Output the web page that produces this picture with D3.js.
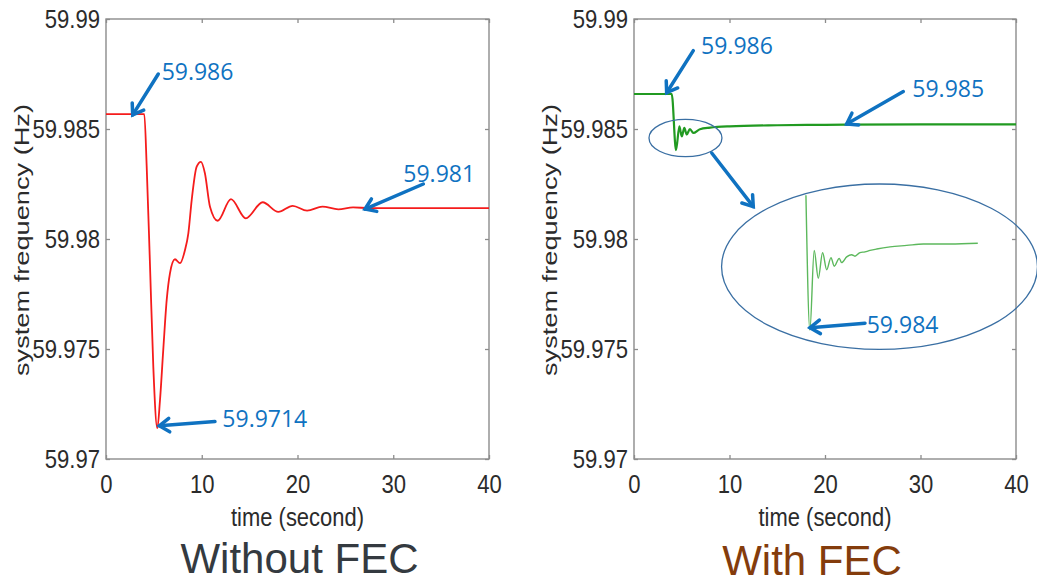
<!DOCTYPE html>
<html><head><meta charset="utf-8">
<script src="https://cdn.jsdelivr.net/npm/d3@7"></script>
<style>
html,body{margin:0;padding:0;background:#fff;}
svg{display:block;}
.tick text{font-family:"Liberation Sans",Arial,sans-serif;font-size:26px;fill:#2b2b2b;transform-box:fill-box;}
.yax .tick text{transform-origin:100% 50%;transform:scaleX(0.85);}
.xax .tick text{transform-origin:50% 50%;transform:scaleX(0.85);}
.tick line{stroke:#8c8c8c;stroke-width:1.3;}
.note{font-family:"Open Sans",sans-serif;font-size:23px;fill:#0f72c1;}
.axlabel{font-family:"Liberation Sans",Arial,sans-serif;fill:#2b2b2b;}
</style></head><body>
<svg id="c" width="1037" height="583"></svg>
<script>
// ---------- data ----------
const xTicks = [0, 10, 20, 30, 40];
const xTickLabels = ["0", "10", "20", "30", "40"];
const yTicks = [59.97, 59.975, 59.98, 59.985, 59.99];
const yTickLabels = ["59.97", "59.975", "59.98", "59.985", "59.99"];

// Without FEC (red)
const redTime  = [0, 4.0, 4.25, 4.6, 4.94, 5.36, 5.64, 5.98, 6.34, 6.68, 7.2, 7.73, 8.25, 8.6, 8.95, 9.47, 9.92, 10.33, 10.86, 11.67, 13.05, 14.6, 16.36, 18.0, 19.5, 21.0, 22.6, 24.27, 25.8, 27.5, 40];
const redValue = [59.98568, 59.98568, 59.98329, 59.97874, 59.97420, 59.97140, 59.97268, 59.97496, 59.97723, 59.97844, 59.97908, 59.97890, 59.97950, 59.98026, 59.98177, 59.98329, 59.98351, 59.98299, 59.98147, 59.98083, 59.98181, 59.98094, 59.98167, 59.98123, 59.98151, 59.98129, 59.98147, 59.98135, 59.98144, 59.98140, 59.98140];

// With FEC (green)
const greenTime  = [0, 3.95, 4.4, 4.75, 5.0, 5.27, 5.52, 5.86, 6.21, 6.9, 7.96, 10, 15, 20, 30, 40];
const greenValue = [59.98659, 59.98659, 59.98404, 59.98512, 59.98466, 59.98505, 59.98475, 59.98500, 59.98482, 59.98499, 59.98506, 59.98512, 59.98517, 59.98519, 59.98521, 59.98521];

// zoomed inset of the With FEC transient
const insetTime  = [4.08, 4.40, 4.75, 5.08, 5.43, 5.76, 6.11, 6.37, 6.78, 6.97, 7.38, 7.78, 8.05, 8.46, 8.86, 9.27, 9.81, 10.89, 12.24, 13.59, 15.75, 18.0];
const insetValue = [59.98588, 59.98400, 59.98511, 59.98472, 59.98508, 59.98484, 59.98501, 59.98489, 59.98500, 59.98494, 59.98502, 59.98505, 59.98503, 59.98508, 59.98509, 59.98511, 59.98513, 59.98516, 59.98518, 59.98520, 59.98520, 59.98521];

const leftNoteLabels  = ["59.986", "59.981", "59.9714"];
const rightNoteLabels = ["59.986", "59.985", "59.984"];

// ---------- layout ----------
const svg = d3.select("#c");
const TOP = 19, BOTTOM = 459;
const FRAME = "#8c8c8c";
const BLUE = "#0f72c1";

function panel(left, right) {
  const g = svg.append("g");
  const x = d3.scaleLinear().domain([0, 40]).range([left, right]);
  const y = d3.scaleLinear().domain([59.97, 59.99]).range([BOTTOM, TOP]);
  g.append("g").attr("class", "xax").attr("transform", `translate(0,${BOTTOM})`)
    .call(d3.axisBottom(x).tickValues(xTicks).tickFormat((d, i) => xTickLabels[i]).tickSizeInner(-4).tickSizeOuter(0).tickPadding(16))
    .call(a => a.select(".domain").remove());
  g.append("g").attr("transform", `translate(0,${TOP})`)
    .call(d3.axisTop(x).tickValues(xTicks).tickFormat("").tickSizeInner(-4).tickSizeOuter(0))
    .call(a => a.select(".domain").remove());
  g.append("g").attr("class", "yax").attr("transform", `translate(${left},0)`)
    .call(d3.axisLeft(y).tickValues(yTicks).tickFormat((d, i) => yTickLabels[i]).tickSizeInner(-4).tickSizeOuter(0).tickPadding(6))
    .call(a => a.select(".domain").remove());
  g.append("g").attr("transform", `translate(${right},0)`)
    .call(d3.axisRight(y).tickValues(yTicks).tickFormat("").tickSizeInner(-4).tickSizeOuter(0))
    .call(a => a.select(".domain").remove());
  g.append("rect").attr("x", left).attr("y", TOP).attr("width", right - left).attr("height", BOTTOM - TOP)
    .attr("fill", "none").attr("stroke", FRAME).attr("stroke-width", 1.4);
  // axis labels
  g.append("text").attr("class", "axlabel").attr("x", (left + right) / 2).attr("y", 526)
    .attr("text-anchor", "middle").attr("font-size", 25).attr("textLength", 133).attr("lengthAdjust", "spacingAndGlyphs")
    .text("time (second)");
  g.append("text").attr("class", "axlabel")
    .attr("transform", `translate(${left - 77},240) rotate(-90)`)
    .attr("text-anchor", "middle").attr("font-size", 21).attr("textLength", 272).attr("lengthAdjust", "spacingAndGlyphs")
    .text("system frequency (Hz)");
  return { g, x, y };
}

function arrow(g, x1, y1, x2, y2, w) {
  const a = Math.atan2(y2 - y1, x2 - x1), L = 12, s = 0.6;
  const p1 = [x2 - L * Math.cos(a - s), y2 - L * Math.sin(a - s)];
  const p2 = [x2 - L * Math.cos(a + s), y2 - L * Math.sin(a + s)];
  g.append("line").attr("x1", x1).attr("y1", y1).attr("x2", x2).attr("y2", y2)
    .attr("stroke", BLUE).attr("stroke-width", w || 3.5).attr("stroke-linecap", "round");
  g.append("path").attr("d", `M${p1}L${x2},${y2}L${p2}`).attr("fill", "none")
    .attr("stroke", BLUE).attr("stroke-width", w || 3.5).attr("stroke-linejoin", "miter").attr("stroke-linecap", "round");
}

function note(P, label, tT, tV, fT, fV, hT, hV) {
  P.g.append("text").attr("class", "note").attr("x", P.x(tT)).attr("y", P.y(tV)).text(label);
  arrow(P.g, P.x(fT), P.y(fV), P.x(hT), P.y(hV));
}

// ---------- left: Without FEC ----------
const L = panel(106, 489);
const redData = redTime.map((t, i) => ({ t, v: redValue[i] }));
L.g.append("path").datum(redData)
  .attr("d", d3.line().x(d => L.x(d.t)).y(d => L.y(d.v)).curve(d3.curveMonotoneX))
  .attr("fill", "none").attr("stroke", "#f51c1c").attr("stroke-width", 1.8);
note(L, leftNoteLabels[0], 5.81, 59.98723, 5.46, 59.98750, 2.79, 59.98564);
note(L, leftNoteLabels[1], 31.05, 59.98261, 33.14, 59.98250, 27.05, 59.98136);
note(L, leftNoteLabels[2], 12.15, 59.97147, 11.38, 59.97170, 5.57, 59.97151);

// ---------- right: With FEC ----------
const R = panel(634, 1016);
const greenData = greenTime.map((t, i) => ({ t, v: greenValue[i] }));
R.g.append("path").datum(greenData)
  .attr("d", d3.line().x(d => R.x(d.t)).y(d => R.y(d.v)).curve(d3.curveMonotoneX))
  .attr("fill", "none").attr("stroke", "#219a21").attr("stroke-width", 2.2);

// small ellipse around the transient
R.g.append("ellipse").attr("cx", R.x(5.39)).attr("cy", R.y(59.98459))
  .attr("rx", R.x(3.82) - R.x(0)).attr("ry", R.y(59.98) - R.y(59.98085))
  .attr("fill", "none").attr("stroke", "#3a6fa3").attr("stroke-width", 1.3);
// big ellipse (zoom)
R.g.append("ellipse").attr("cx", R.x(25.71)).attr("cy", R.y(59.97874))
  .attr("rx", R.x(16.54) - R.x(0)).attr("ry", R.y(59.98) - R.y(59.983759))
  .attr("fill", "none").attr("stroke", "#3a6fa3").attr("stroke-width", 1.3);
arrow(R.g, R.x(8.14), R.y(59.98391), R.x(12.49), R.y(59.98147));

// inset curve drawn with its own scales placed inside the big ellipse
const ix = d3.scaleLinear().domain([4, 18]).range([R.x(17.9), R.x(36.0)]);
const iy = d3.scaleLinear().domain([59.984, 59.9852]).range([R.y(59.975864), R.y(59.979773)]);
const insetData = insetTime.map((t, i) => ({ t, v: insetValue[i] }));
R.g.append("path").datum(insetData)
  .attr("d", d3.line().x(d => ix(d.t)).y(d => iy(d.v)).curve(d3.curveMonotoneX))
  .attr("fill", "none").attr("stroke", "#5cb85c").attr("stroke-width", 1.4);

note(R, rightNoteLabels[0], 7.02, 59.98840, 6.21, 59.98856, 3.42, 59.98665);
note(R, rightNoteLabels[1], 29.14, 59.98647, 28.2, 59.98670, 22.27, 59.98523);
note(R, rightNoteLabels[2], 24.37, 59.97571, 24.19, 59.97617, 18.43, 59.97597);

// ---------- titles ----------
svg.append("text").attr("x", 299.5).attr("y", 573).attr("text-anchor", "middle")
  .attr("font-family", "Liberation Sans, Arial, sans-serif").attr("font-size", 42).attr("fill", "#343a40")
  .text("Without FEC");
svg.append("text").attr("x", 812).attr("y", 575).attr("text-anchor", "middle")
  .attr("font-family", "Liberation Sans, Arial, sans-serif").attr("font-size", 42).attr("fill", "#843c0c")
  .text("With FEC");
</script></body></html>
